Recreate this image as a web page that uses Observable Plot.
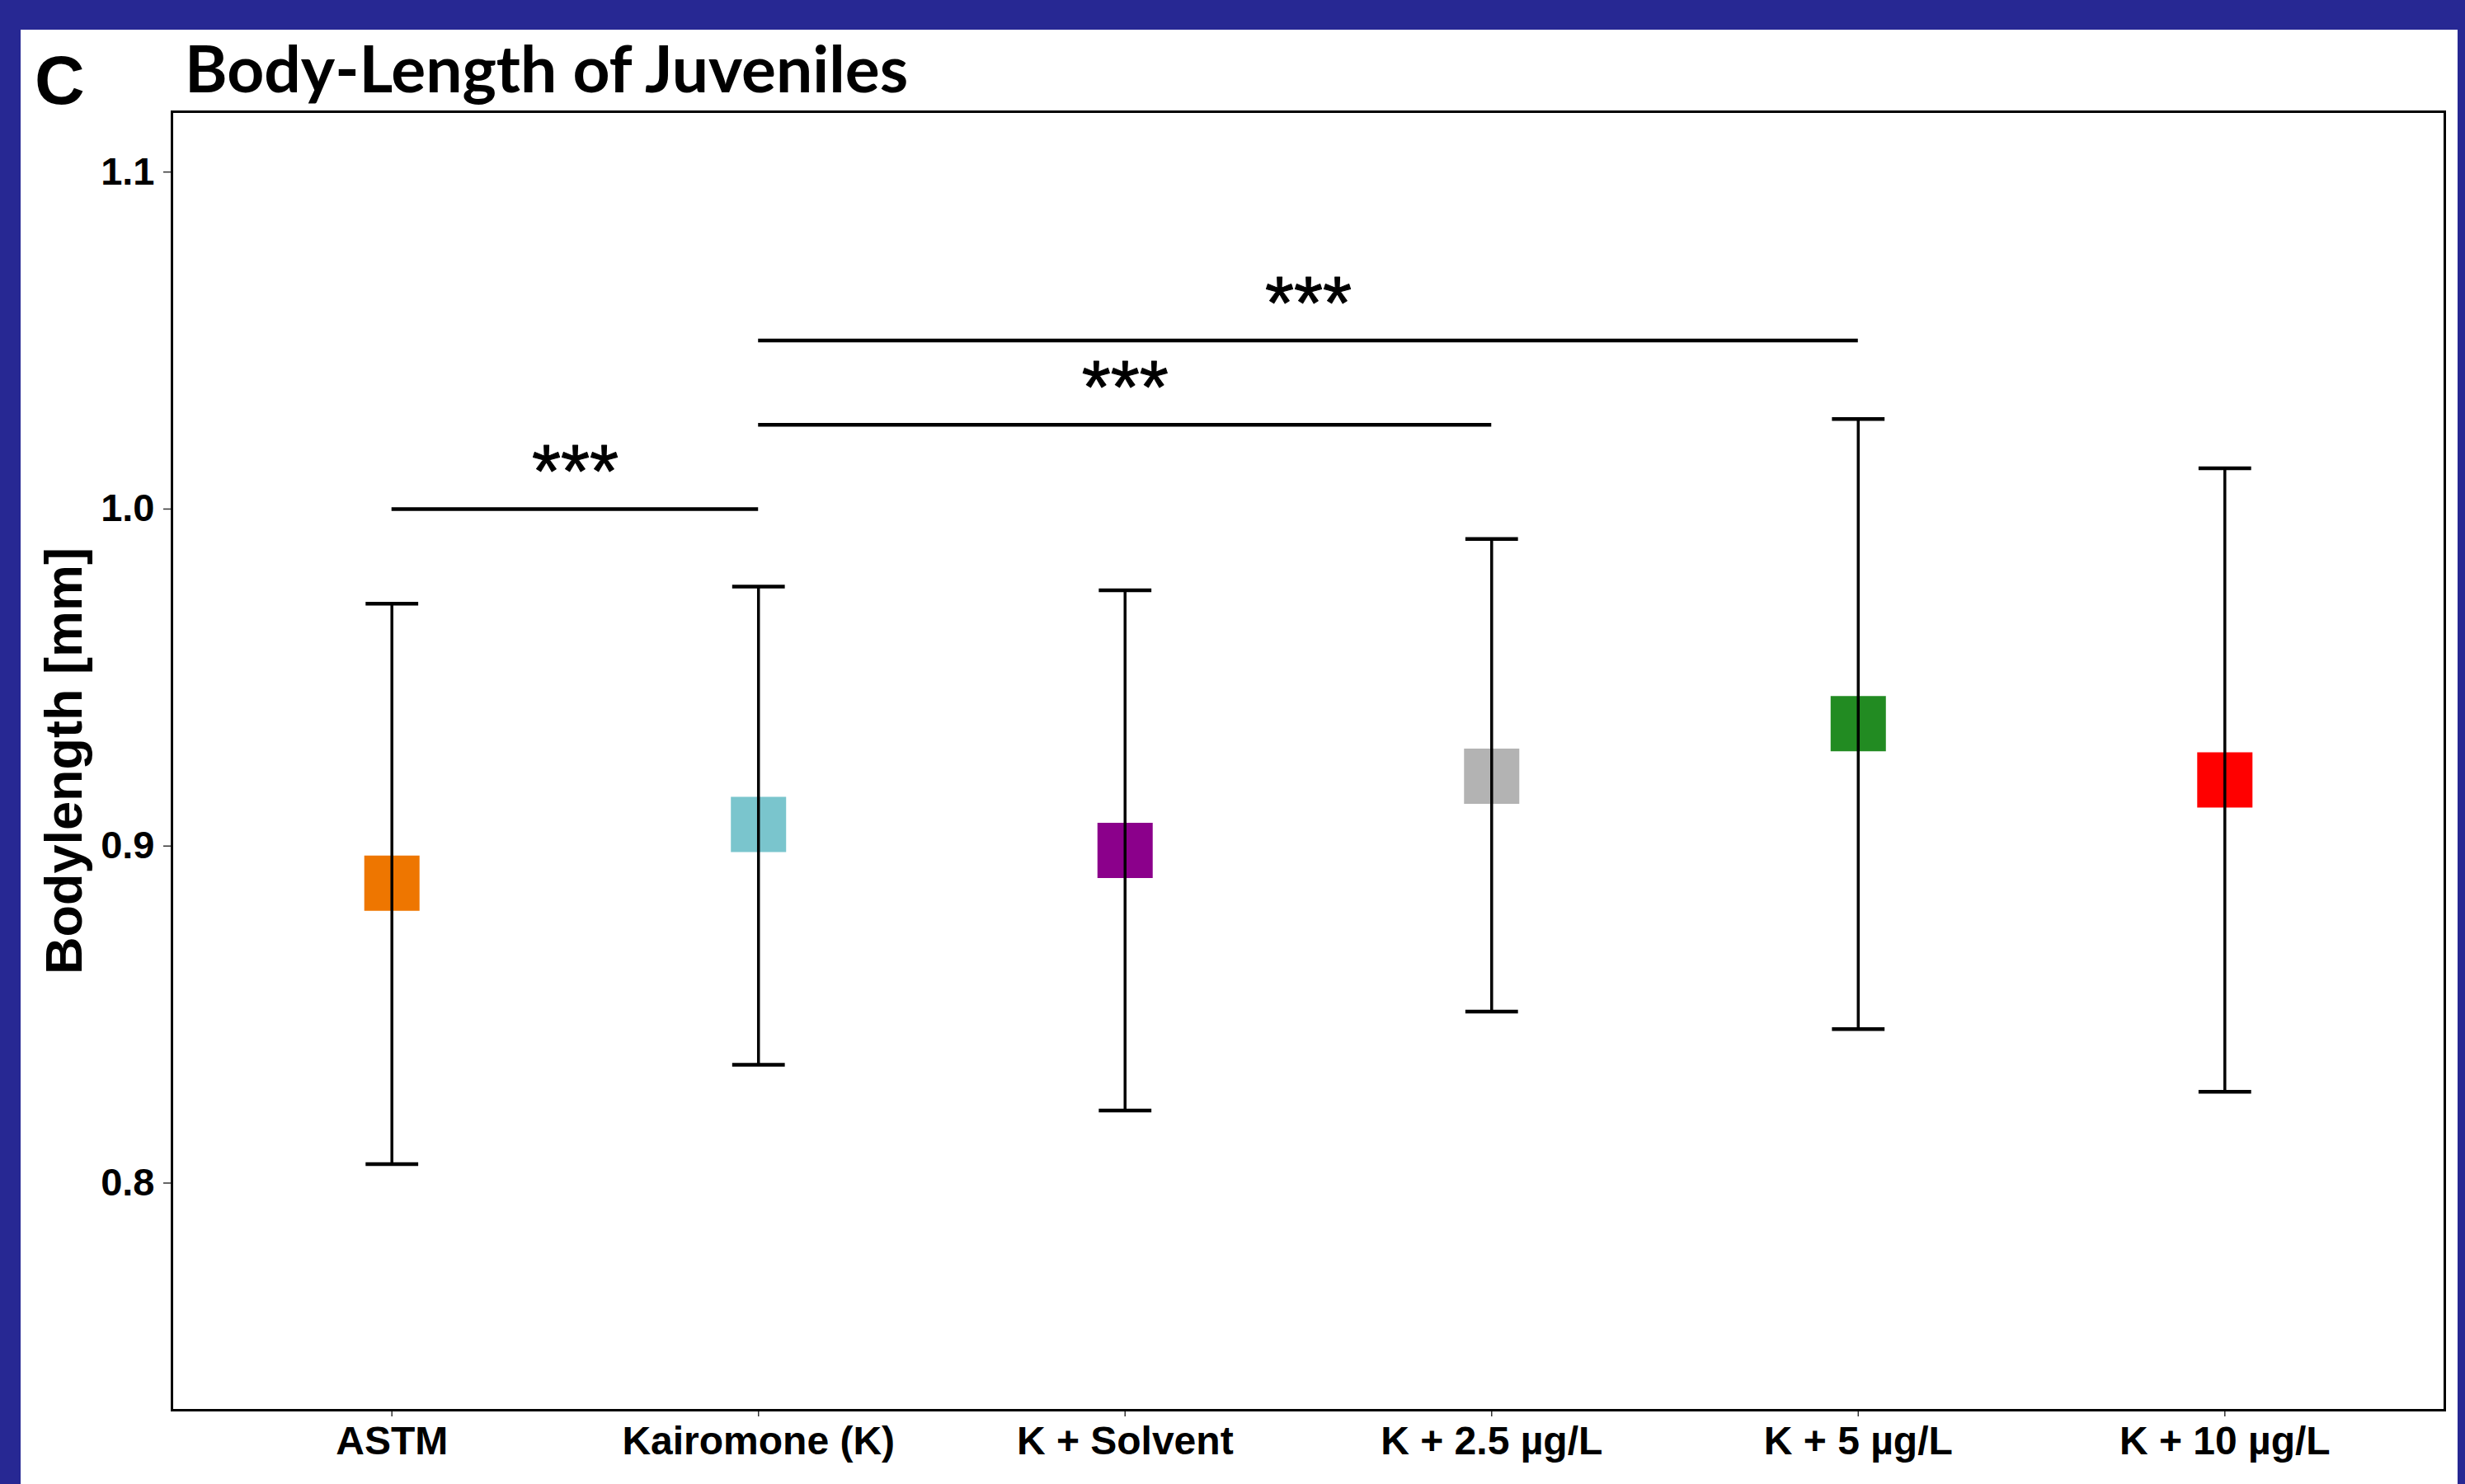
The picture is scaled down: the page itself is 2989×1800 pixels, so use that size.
<!DOCTYPE html>
<html><head><meta charset="utf-8">
<script src="https://cdn.jsdelivr.net/npm/d3@7"></script>
<script src="https://cdn.jsdelivr.net/npm/@observablehq/plot@0.6"></script>
<style>
html,body{margin:0;padding:0;background:#272893;width:2989px;height:1800px;overflow:hidden}
#panel{position:absolute;left:25px;top:36px;width:2955px;height:1764px;background:#fff}
#letter{position:absolute;left:17px;top:19px;font:bold 84px "Liberation Sans",Arial,sans-serif;line-height:1;color:#000}
#title{position:absolute;left:199px;top:7px;font:bold 78.5px "Lato",sans-serif;line-height:1;color:#000;white-space:nowrap}
#chart{position:absolute;left:0;top:94px}
</style></head>
<body>
<div id="panel">
  <div id="letter">C</div>
  <div id="title">Body-Length of Juveniles</div>
  <div id="chart"></div>
</div>
<script>
// ---- data ----
const groups = ["ASTM", "Kairomone (K)", "K + Solvent", "K + 2.5 µg/L", "K + 5 µg/L", "K + 10 µg/L"];
const means  = [0.889, 0.9064, 0.8987, 0.9207, 0.9363, 0.9196];
const lower  = [0.8056, 0.8351, 0.8215, 0.8509, 0.8457, 0.8271];
const upper  = [0.9719, 0.9770, 0.9759, 0.9911, 1.0267, 1.0121];
const colors = ["#EE7600", "#7AC5CD", "#8B008B", "#B3B3B3", "#228B22", "#FF0000"];

const compFrom  = ["ASTM", "Kairomone (K)", "Kairomone (K)"];
const compTo    = ["Kairomone (K)", "K + 2.5 µg/L", "K + 5 µg/L"];
const compY     = [1.0, 1.025, 1.05];
const compLabel = ["***", "***", "***"];

const yTicks = [0.8, 0.9, 1.0, 1.1];
const yLabel = "Bodylength [mm]";

// ---- tables ----
const rows = groups.map((g, i) => ({g, i, mean: means[i], lo: lower[i], hi: upper[i], color: colors[i]}));
const comps = compFrom.map((f, k) => {
  const a = groups.indexOf(f), b = groups.indexOf(compTo[k]);
  return {a, b, mid: (a + b) / 2, y: compY[k], label: compLabel[k]};
});

const capSymbol = {draw(ctx, size) { const w = Math.sqrt(size) / 2; ctx.moveTo(-w, 0); ctx.lineTo(w, 0); }};

const chart = Plot.plot({
  width: 2955,
  height: 1670,
  marginLeft: 183,
  marginRight: 16,
  marginTop: 5,
  marginBottom: 90,
  style: {fontFamily: "'Liberation Sans', Arial, sans-serif", fontWeight: "bold", color: "black", background: "white"},
  x: {domain: [-0.6, 5.6]},
  y: {domain: [0.7326, 1.1179]},
  marks: [
    Plot.dot(rows, {x: "i", y: "mean", symbol: "square", r: 37.8, fill: "color", stroke: "none"}),
    Plot.ruleX(rows, {x: "i", y1: "lo", y2: "hi", stroke: "black", strokeWidth: 3.5}),
    Plot.dot(rows, {x: "i", y: "hi", symbol: capSymbol, r: 36, stroke: "black", strokeWidth: 4.5, fill: "none"}),
    Plot.dot(rows, {x: "i", y: "lo", symbol: capSymbol, r: 36, stroke: "black", strokeWidth: 4.5, fill: "none"}),
    Plot.ruleY(comps, {x1: "a", x2: "b", y: "y", stroke: "black", strokeWidth: 4.5}),
    Plot.text(comps, {x: "mid", y: "y", text: "label", fontSize: 90, fontWeight: "normal", dy: -43, fill: "black", stroke: "black", strokeWidth: 1}),
    Plot.axisY({ticks: yTicks, tickFormat: d3.format(".1f"), tickSize: 10, tickPadding: 11, fontSize: 47, label: null, stroke: "#333", strokeWidth: 1.5}),
    Plot.axisX({ticks: d3.range(groups.length), tickFormat: i => groups[i], tickSize: 8, tickPadding: 11, fontSize: 48, label: null, stroke: "#333", strokeWidth: 1.5}),
    Plot.text([yLabel], {frameAnchor: "left", textAnchor: "middle", rotate: -90, dx: -130, fontSize: 63, fontWeight: "bold", fill: "black"}),
    Plot.frame({stroke: "black", strokeWidth: 3})
  ]
});
document.getElementById("chart").appendChild(chart);
</script>
</body></html>
